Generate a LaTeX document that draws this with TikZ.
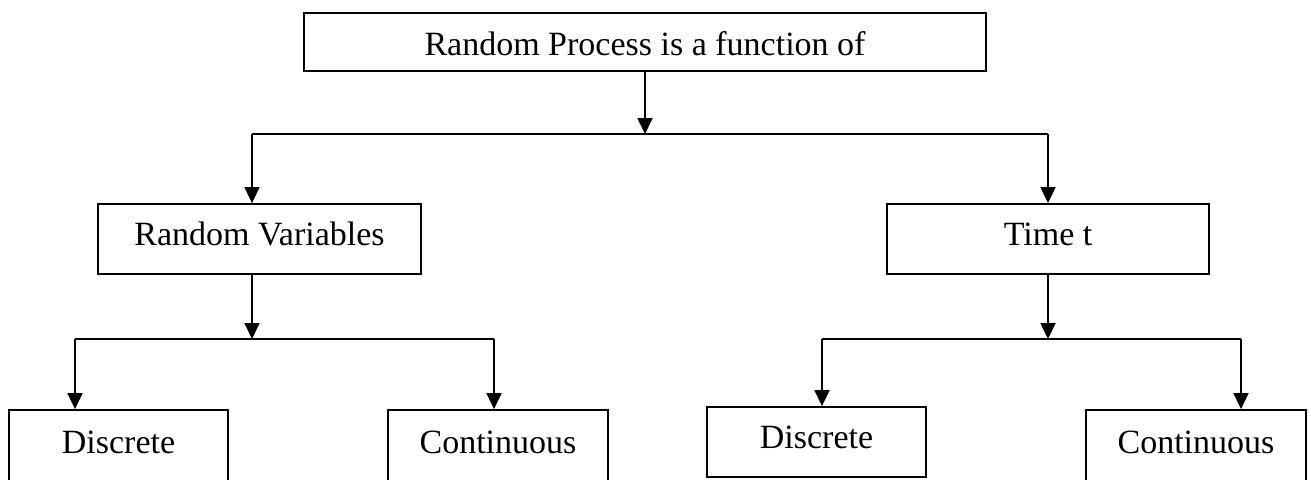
\documentclass[tikz,border=0pt]{standalone}
\usepackage{fontspec}
\setmainfont{Liberation Serif}
\usetikzlibrary{arrows.meta}
\tikzset{
  box/.style={draw=black, line width=1.8pt, inner sep=0pt, text depth=0pt, font=\fontsize{34}{40}\selectfont},
  conn/.style={line width=1.8pt, draw=black},
  arr/.style={conn, -{Triangle[width=15pt,length=16pt]}},
}
\begin{document}
\begin{tikzpicture}[x=1pt,y=-1pt]
\useasboundingbox (0,0) rectangle (1311,479);
\clip (0,0) rectangle (1311,479);
\fill[white] (0,0) rectangle (1311,479);
% boxes
\node[box, minimum width=682pt, minimum height=58pt, text height=26pt] (top) at (645,42) {Random Process is a function of};
\node[box, minimum width=323pt, minimum height=70pt, text height=12pt] (rv) at (259.5,239) {Random Variables};
\node[box, minimum width=322pt, minimum height=70pt, text height=12pt] (time) at (1048,239) {Time t};
\node[box, minimum width=219pt, minimum height=86pt, text height=0pt] (d1) at (118.5,453) {Discrete};
\node[box, minimum width=220pt, minimum height=86pt, text height=0pt] (c1) at (498,453) {Continuous};
\node[box, minimum width=219pt, minimum height=70pt, text height=12pt] (d2) at (816.5,442) {Discrete};
\node[box, minimum width=220pt, minimum height=86pt, text height=0pt] (c2) at (1196,453) {Continuous};
% junctions
\coordinate (h1) at (645,134);
\coordinate (h1L) at (252,134);
\coordinate (h1R) at (1048,134);
\coordinate (h2) at (252,339);
\coordinate (h2L) at (75,339);
\coordinate (h2R) at (494,339);
\coordinate (h3) at (1048,339);
\coordinate (h3L) at (822,339);
\coordinate (h3R) at (1241,339);
% connectors
\draw[arr] (top.south -| h1) -- (h1);
\draw[conn] (h1L) -- (h1R);
\draw[arr] (h1L) -- (h1L |- rv.north);
\draw[arr] (h1R) -- (h1R |- time.north);
\draw[arr] (rv.south -| h2) -- (h2);
\draw[conn] (h2L) -- (h2R);
\draw[arr] (h2L) -- (h2L |- d1.north);
\draw[arr] (h2R) -- (h2R |- c1.north);
\draw[arr] (time.south -| h3) -- (h3);
\draw[conn] (h3L) -- (h3R);
\draw[arr] (h3L) -- (h3L |- d2.north);
\draw[arr] (h3R) -- (h3R |- c2.north);
\end{tikzpicture}
\end{document}
